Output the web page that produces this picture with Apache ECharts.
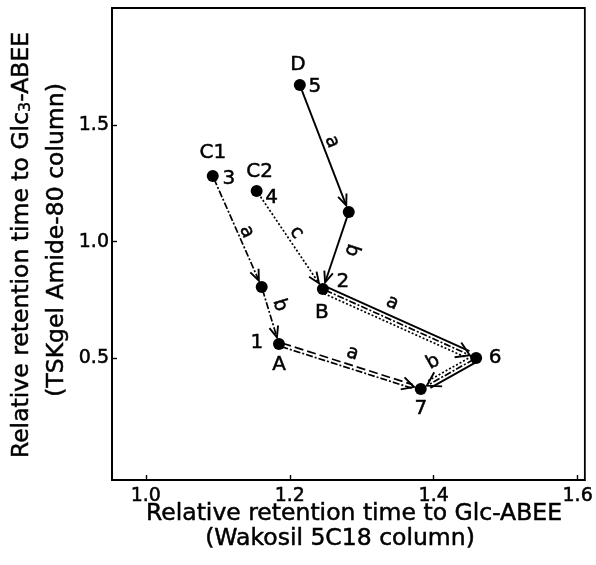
<!DOCTYPE html>
<html><head><meta charset="utf-8">
<script src="https://cdn.jsdelivr.net/npm/echarts@6/dist/echarts.min.js"></script>
<style>html,body{margin:0;padding:0;background:#fff}#c{width:596px;height:565px}</style>
</head><body><div id="c"></div>
<script>
// ---- data ----
const pointKeys    = ['p5', 'p3', 'p4', 'p2', 'p1', 'p6', 'p7', 'm5', 'm3'];
const pointX       = [1.214, 1.093, 1.154, 1.246, 1.185, 1.459, 1.382, 1.282, 1.161];
const pointY       = [1.670, 1.281, 1.217, 0.797, 0.562, 0.502, 0.369, 1.127, 0.806];
const pointNumbers = ['5', '3', '4', '2', '1', '6', '7', '', ''];
const pointLetters = ['D', 'C1', 'C2', 'B', 'A', '', '', '', ''];

const arrowFrom   = ['p5', 'm5', 'p3', 'm3', 'p4', 'p2', 'p1', 'p6'];
const arrowTo     = ['m5', 'p2', 'm3', 'p1', 'p2', 'p6', 'p7', 'p7'];
const arrowLabels = ['a', 'b', 'a', 'b', 'c', 'a', 'a', 'b'];
const arrowLineTypes = [['solid'], ['solid'], ['dashdot'], ['dashdot'], ['dotted'],
  ['solid', 'dashdot', 'dotted'], ['dashed', 'dashdot'], ['solid', 'dashdot', 'dotted']];

const xTickValues = [1.0, 1.2, 1.4, 1.6];
const yTickValues = [0.5, 1.0, 1.5];
const xTitle1 = 'Relative retention time to Glc-ABEE';
const xTitle2 = '(Wakosil 5C18 column)';
const yTitle2 = '(TSKgel Amide-80 column)';

// ---- styles (pixel placement of annotations) ----
const FONT = '"DejaVu Sans", Arial, Helvetica, sans-serif';
const numOffsets = [[15, 2], [16, 3], [15, 7], [20, -7], [-22, -1], [19, 0], [0, 20], [0, 0], [0, 0]];
const letOffsets = [[-2, -20], [0, -23], [3, -19], [-1, 24], [0, 21], [0, 0], [0, 0], [0, 0], [0, 0]];
const labelT    = [0.475, 0.43, 0.535, 0.38, 0.48, 0.41, 0.49, 0.62];
const labelOff  = [9.4, 15, 8.5, 12, 9.7, 16, 13.5, -17.6];
const labelFlip = [false, false, false, false, false, false, false, true];
const dashes = { solid: null, dashdot: [7, 2, 2, 2], dotted: [2, 2], dashed: [9, 4] };

const idx = k => pointKeys.indexOf(k);
const arrowData = arrowFrom.map((f, i) => [pointX[idx(f)], pointY[idx(f)], pointX[idx(arrowTo[i])], pointY[idx(arrowTo[i])]]);
const pointData = pointX.map((x, i) => [x, pointY[i]]);

function txt(text, size, extra) {
  return Object.assign({ text, font: size + 'px ' + FONT, align: 'center', verticalAlign: 'middle',
    fill: '#000', stroke: '#000', lineWidth: 0.5 }, extra || {});
}

function renderArrow(params, api) {
  const i = params.dataIndex;
  const a = api.coord([api.value(0), api.value(1)]);
  const b = api.coord([api.value(2), api.value(3)]);
  const dx = b[0] - a[0], dy = b[1] - a[1], len = Math.hypot(dx, dy);
  const ux = dx / len, uy = dy / len, nx = uy, ny = -ux;
  const types = arrowLineTypes[i], k = types.length, sp = 3.6;
  const tip = [b[0] - ux * 7, b[1] - uy * 7];
  const children = [];
  types.forEach((t, j) => {
    const off = ((k - 1) / 2 - j) * sp;
    children.push({
      type: 'line',
      shape: { x1: a[0] + ux * 3 + nx * off, y1: a[1] + uy * 3 + ny * off,
               x2: tip[0] - ux * 2 + nx * off, y2: tip[1] - uy * 2 + ny * off },
      style: { stroke: '#000', lineWidth: t === 'solid' ? 1.9 : 1.7, lineDash: dashes[t], fill: 'none' }
    });
  });
  const L = 11 + (k - 1), w = 4.5 + (k - 1) * sp / 2;
  children.push({
    type: 'polyline',
    shape: { points: [[tip[0] - ux * L + nx * w, tip[1] - uy * L + ny * w], tip,
                      [tip[0] - ux * L - nx * w, tip[1] - uy * L - ny * w]] },
    style: { stroke: '#000', fill: 'none', lineWidth: 1.9 }
  });
  const tt = labelT[i], o = labelOff[i];
  const ang = Math.atan2(dy, dx);
  children.push({
    type: 'text', x: a[0] + dx * tt + nx * o, y: a[1] + dy * tt + ny * o,
    rotation: -ang + (labelFlip[i] ? Math.PI : 0),
    style: txt(arrowLabels[i], 19)
  });
  return { type: 'group', children };
}

function renderPointLabels(params, api) {
  const i = params.dataIndex;
  const p = api.coord([api.value(0), api.value(1)]);
  const children = [];
  if (pointNumbers[i]) children.push({ type: 'text', x: p[0] + numOffsets[i][0], y: p[1] + numOffsets[i][1], style: txt(pointNumbers[i], 20) });
  if (pointLetters[i]) children.push({ type: 'text', x: p[0] + letOffsets[i][0], y: p[1] + letOffsets[i][1], style: txt(pointLetters[i], 20) });
  return { type: 'group', children };
}

const axisLabelStyle = { color: '#000', fontSize: 19, fontFamily: FONT, textBorderColor: '#000', textBorderWidth: 0.5 };

const chart = echarts.init(document.getElementById('c'), null, { renderer: 'canvas' });
chart.setOption({
  animation: false,
  backgroundColor: '#fff',
  grid: { left: 112, right: 11, top: 8, bottom: 85, show: true, borderColor: '#000', borderWidth: 1.8, backgroundColor: 'transparent' },
  xAxis: {
    type: 'value', min: 0.953, max: 1.61,
    splitLine: { show: false },
    axisLine: { show: true, onZero: false, lineStyle: { color: '#000', width: 1.8 } },
    axisTick: { show: true, inside: true, length: 5, customValues: xTickValues, lineStyle: { color: '#000', width: 1.4 } },
    axisLabel: Object.assign({ customValues: xTickValues, formatter: v => v.toFixed(1), margin: 7 }, axisLabelStyle)
  },
  yAxis: {
    type: 'value', min: -0.02, max: 2.0,
    splitLine: { show: false },
    axisLine: { show: true, onZero: false, lineStyle: { color: '#000', width: 1.8 } },
    axisTick: { show: true, inside: true, length: 5, customValues: yTickValues, lineStyle: { color: '#000', width: 1.4 } },
    axisLabel: Object.assign({ customValues: yTickValues, formatter: v => v.toFixed(1), margin: 3 }, axisLabelStyle)
  },
  graphic: [
    { type: 'text', x: 354, y: 514, style: txt(xTitle1, 23.5) },
    { type: 'text', x: 340, y: 539, style: txt(xTitle2, 23.5) },
    { type: 'text', x: 22, y: 245, rotation: Math.PI / 2,
      style: txt('Relative retention time to Glc{sub|3}-ABEE', 23.5, {
        rich: { sub: { font: '16px ' + FONT, fill: '#000', stroke: '#000', lineWidth: 0.4, verticalAlign: 'bottom', padding: [6, 0, 0, 0] } } }) },
    { type: 'text', x: 57, y: 240, rotation: Math.PI / 2, style: txt(yTitle2, 23.5) }
  ],
  series: [
    { type: 'custom', coordinateSystem: 'cartesian2d', data: arrowData, encode: { x: [0, 2], y: [1, 3] }, renderItem: renderArrow, z: 2, silent: true },
    { type: 'scatter', data: pointData, symbol: 'circle', symbolSize: 12, itemStyle: { color: '#000', opacity: 1 }, z: 3, silent: true },
    { type: 'custom', coordinateSystem: 'cartesian2d', data: pointData, renderItem: renderPointLabels, z: 4, silent: true }
  ]
});
</script>
</body></html>
